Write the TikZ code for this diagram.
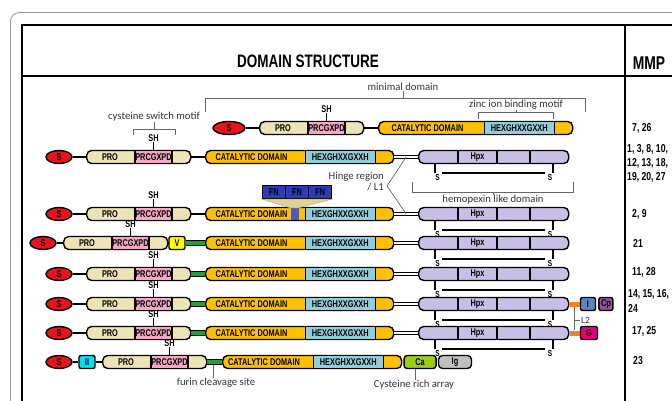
\documentclass[tikz,border=0pt]{standalone}
\usepackage{fontspec}
\setmainfont{Carlito}
\newfontfamily\narrowsf{Liberation Sans}[FakeStretch=0.75]
\usetikzlibrary{shapes.geometric,positioning,calc}

\definecolor{sred}{HTML}{E8141B}
\definecolor{tanc}{HTML}{EEE3B4}
\definecolor{pinkc}{HTML}{F4A7C4}
\definecolor{goldc}{HTML}{FFC000}
\definecolor{skyc}{HTML}{93CDDD}
\definecolor{lavc}{HTML}{C9BEE6}
\definecolor{greenc}{HTML}{1FA03A}
\definecolor{yelc}{HTML}{FFFF00}
\definecolor{cyanc}{HTML}{00E0F0}
\definecolor{limec}{HTML}{9ACD14}
\definecolor{grayc}{HTML}{BFBFBF}
\definecolor{ibluec}{HTML}{5B86BF}
\definecolor{cpc}{HTML}{9B4D9B}
\definecolor{magc}{HTML}{E6007E}
\definecolor{orangec}{HTML}{F58220}
\definecolor{fnblue}{HTML}{2E3BB8}

\begin{document}
\begin{tikzpicture}[x=1pt, y=-1pt,
    lab/.style = {font=\narrowsf\bfseries\fontsize{9.8}{10}\selectfont, inner sep=0pt},
    sl/.style = {lab, font=\narrowsf\bfseries\fontsize{8.7}{9}\selectfont},
    note/.style = {font=\fontsize{10.7}{11}\selectfont, text=black!80, inner sep=0pt},
    box/.style = {draw, line width=1.4pt, minimum height=13pt, inner sep=0pt, lab},
    sig/.style = {ellipse, box, fill=sred, minimum width=26pt},
    link/.style = {line width=1.4pt},
    hinge/.style = {double, double distance=1.6pt, line width=1.1pt},
    grn/.style = {double=greenc, double distance=3.6pt, line width=0.9pt},
    brk/.style = {draw=black!60, line width=0.7pt},
    mmp/.style = {font=\narrowsf\bfseries\fontsize{11.5}{14}\selectfont, anchor=west, align=left, inner sep=0pt},
    pics/prodom/.style = {code={
        \node[box, rounded corners=5pt, fill=tanc, minimum width=104pt, anchor=west] (-box) at (0,0) {};
        \node[box, fill=pinkc, minimum width=37pt] (-mot) at (67.5,0) {PRCGXPD};
        \node[lab] (-pro) at (24,0) {PRO};
        \node[lab] (-sh) at (67.5,-19) {SH};
        \draw[link] (-sh) -- (-mot);
    }},
    pics/catdom/.style = {code={
        \node[box, rounded corners=5pt, fill=goldc, minimum width=#1pt, anchor=west] (-box) at (0,0) {};
        \node[box, fill=skyc, minimum width=70pt, anchor=east] (-hex) at (#1-17,0) {HEXGHXXGXXH};
        \node[lab] (-cat) at ({(#1-87)/2-4},0) {CATALYTIC DOMAIN};
    }},
    pics/hpxdom/.style = {code={
        \node[box, rounded corners=5pt, fill=lavc, minimum width=150pt, anchor=west] (-box) at (0,0) {};
        \foreach \d in {40,79,112} \draw[line width=1.2pt] (\d,-6.5) -- (\d,6.5);
        \node[lab] (-hpx) at (59.5,0) {Hpx};
        \node[sl] (-s1) at (19.5,21) {S};
        \node[sl] (-s2) at (132,21) {S};
        \draw[link] (17,6.5) -- (17,16);
        \draw[link] (135,6.5) -- (135,16);
        \draw[link] (24,16) -- (127,16);
    }}]
    \useasboundingbox (0,0) rectangle (672,401);
    \clip (0,0) rectangle (672,401);
    \draw[black!40, line width=0.8pt, rounded corners=9pt] (10.5,12.5) rectangle (700,430);
    \draw[line width=1.6pt] (22,410) -- (22,25) -- (680,25);
    \draw[line width=1.6pt] (22,76) -- (680,76);
    \draw[line width=1.6pt] (625,25) -- (625,410);
    \node[font=\narrowsf\bfseries\fontsize{18}{20}\selectfont] (title) at (308,61) {DOMAIN STRUCTURE};
    \node[font=\narrowsf\bfseries\fontsize{18.5}{20}\selectfont] (mmp) at (649,63) {MMP};

    \node[sig, minimum width=32pt] (r1s) at (229,128) {S};
    \pic (r1p) at (259,128) {prodom};
    \pic (r1c) at (378,128) {catdom=194};
    \draw[link] (r1s) -- (r1p-box);
    \draw[link] (r1p-box) -- (r1c-box);

    \node[sig] (r2s) at (59,157) {S};
    \pic (r2p) at (86,157) {prodom};
    \pic (r2c) at (205,157) {catdom=188};
    \pic (r2h) at (418,157) {hpxdom};
    \draw[link] (r2s) -- (r2p-box);
    \draw[link] (r2p-box) -- (r2c-box);
    \draw[hinge] (r2c-box) -- (r2h-box);

    \node[sig] (r3s) at (59,214) {S};
    \pic (r3p) at (86,214) {prodom};
    \pic (r3c) at (205,214) {catdom=188};
    \pic (r3h) at (418,214) {hpxdom};
    \draw[link] (r3s) -- (r3p-box);
    \draw[link] (r3p-box) -- (r3c-box);
    \draw[hinge] (r3c-box) -- (r3h-box);
    \node[fill=fnblue!85!white, minimum width=8pt, minimum height=12pt, inner sep=0pt] (r3fn) at (294.5,214) {};
    \node[box, fill=fnblue, minimum width=23.3pt, line width=1pt] (fn1) at (273.7,192) {FN};
    \node[box, fill=fnblue, minimum width=23.3pt, line width=1pt, right=-1pt of fn1] (fn2) {FN};
    \node[box, fill=fnblue, minimum width=23.3pt, line width=1pt, right=-1pt of fn2] (fn3) {FN};
    \filldraw[fill=tanc!85!olive, draw=olive!60, line width=0.5pt] (fn1.south west) -- (fn3.south east) -- (r3fn.north east) -- (r3fn.north west) -- cycle;

    \node[sig] (r4s) at (43,243) {S};
    \pic (r4p) at (63,243) {prodom};
    \node[box, fill=yelc, rounded corners=2pt, minimum width=16pt] (r4v) at (177,243) {V};
    \pic (r4c) at (205,243) {catdom=188};
    \pic (r4h) at (418,243) {hpxdom};
    \draw[link] (r4s) -- (r4p-box);
    \draw[link] (r4p-box) -- (r4v);
    \draw[grn] (r4v) -- (r4c-box);
    \draw[hinge] (r4c-box) -- (r4h-box);

    \node[sig] (r5s) at (59,274) {S};
    \pic (r5p) at (86,274) {prodom};
    \pic (r5c) at (205,274) {catdom=188};
    \pic (r5h) at (418,274) {hpxdom};
    \draw[link] (r5s) -- (r5p-box);
    \draw[grn] (r5p-box) -- (r5c-box);
    \draw[hinge] (r5c-box) -- (r5h-box);

    \node[sig] (r6s) at (59,304) {S};
    \pic (r6p) at (86,304) {prodom};
    \pic (r6c) at (205,304) {catdom=188};
    \pic (r6h) at (418,304) {hpxdom};
    \draw[link] (r6s) -- (r6p-box);
    \draw[grn] (r6p-box) -- (r6c-box);
    \draw[hinge] (r6c-box) -- (r6h-box);
    \node[fill=orangec, minimum width=10pt, minimum height=5pt, inner sep=0pt, right=0pt of r6h-box] (r6l) {};
    \node[box, fill=ibluec, rounded corners=2pt, minimum width=15pt, right=0pt of r6l] (r6i) {I};
    \node[box, fill=cpc, rounded corners=2pt, minimum width=14pt, right=2pt of r6i] (r6cp) {Cp};

    \node[sig] (r7s) at (59,333) {S};
    \pic (r7p) at (86,333) {prodom};
    \pic (r7c) at (205,333) {catdom=188};
    \pic (r7h) at (418,333) {hpxdom};
    \draw[link] (r7s) -- (r7p-box);
    \draw[grn] (r7p-box) -- (r7c-box);
    \draw[hinge] (r7c-box) -- (r7h-box);
    \node[fill=orangec, minimum width=10pt, minimum height=5pt, inner sep=0pt, right=0pt of r7h-box] (r7l) {};
    \node[box, fill=magc, rounded corners=2pt, minimum width=17pt, right=0pt of r7l] (r7g) {G};

    \node[sig] (r8s) at (59,362) {S};
    \node[box, fill=cyanc, rounded corners=2pt, minimum width=16pt] (r8ii) at (87,362) {II};
    \pic (r8p) at (102,362) {prodom};
    \pic (r8c) at (222,362) {catdom=179};
    \node[box, fill=limec, rounded corners=3pt, minimum width=32pt, right=1pt of r8c-box] (r8ca) {Ca};
    \node[box, fill=grayc, rounded corners=4pt, minimum width=33pt, right=1pt of r8ca] (r8ig) {Ig};
    \draw[link] (r8s) -- (r8ii);
    \draw[link] (r8ii) -- (r8p-box);
    \draw[grn] (r8p-box) -- (r8c-box);

    \node[note] (mind) at (403,87) {minimal domain};
    \coordinate (minb) at (403,98);
    \draw[brk] (205,112) |- (585,98) -- (585,112);
    \draw[brk] (minb) -- (mind);
    \node[note] (zinc) at (516,105) {zinc ion binding motif};
    \coordinate (zincb) at (516,112);
    \draw[brk] (478,119) |- (553,112) -- (553,119);
    \draw[brk] (zincb) -- (zinc);
    \node[note] (cys) at (154,117) {cysteine switch motif};
    \coordinate (cysb) at (154,129);
    \draw[brk] (133,135) |- (175,129) -- (175,135);
    \draw[brk] (cysb) -- (cys);
    \node[note] (hpxd) at (493,200) {hemopexin like domain};
    \coordinate (hpxb) at (493,192);
    \draw[brk] (412,182) |- (573,192) -- (573,182);
    \draw[brk] (hpxb) -- (hpxd);
    \node[note, anchor=east, align=right] (hing) at (384,181.5) {Hinge region\\/ L1};
    \coordinate (hv) at (387,186);
    \draw[brk] ($(r2c-box.east)!0.5!(r2h-box.west)$) -- (hv) -- ($(r3c-box.east)!0.5!(r3h-box.west)$);
    \node[note, font=\fontsize{9.5}{10}\selectfont, anchor=west] (l2) at (581,320) {L2};
    \draw[brk] (r6l) -- (r7l);
    \draw[brk] ([xshift=-1.5pt]l2.west) -- (l2.west -| r6l);
    \node[note] (fur) at (216,383) {furin cleavage site};
    \coordinate (furb) at (213,364.5);
    \draw[brk] (furb) -- (furb |- fur.north);
    \node[note] (cra) at (414,385) {Cysteine rich array};
    \draw[brk] ([xshift=-5pt]r8ca.south) -- ([xshift=-5pt]r8ca.south |- cra.north);

    \node[mmp] (m1) at (632,128) {7, 26};
    \node[mmp] (m2) at (627,163) {1, 3, 8, 10,\\12, 13, 18,\\19, 20, 27};
    \node[mmp] (m3) at (632,214) {2, 9};
    \node[mmp] (m4) at (633,243) {21};
    \node[mmp] (m5) at (632,272) {11, 28};
    \node[mmp, font=\narrowsf\bfseries\fontsize{11.5}{15}\selectfont] (m6) at (628,300.5) {14, 15, 16,\\24};
    \node[mmp] (m7) at (632,331) {17, 25};
    \node[mmp] (m8) at (633,361) {23};
\end{tikzpicture}
\end{document}
